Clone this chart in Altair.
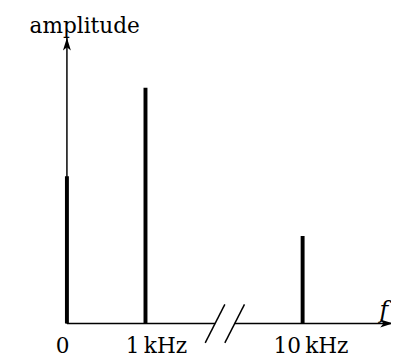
import altair as alt
import pandas as pd

# schematic frequency positions (0, 1 kHz, 10 kHz) and amplitudes
positions = [0, 1, 3]
amplitudes = [0.515, 0.825, 0.306]
tick_labels = ["0", "1\u2009kHz", "10\u2009kHz"]
label_x = [-0.056, 1.14, 3.106]

# axis geometry (data units)
x_axis_start = [0, 2.135]
x_axis_end = [1.885, 4.15]
y_axis_top = 1.0
break_x1 = [1.76, 2.01]
break_x2 = [2.01, 2.26]
break_y1 = -0.068
break_y2 = 0.067

xs = alt.Scale(domain=[0, 3.9], nice=False, zero=False)
ys = alt.Scale(domain=[0, 1], nice=False, zero=False)

bars_df = pd.DataFrame({"x": positions, "amp": amplitudes, "zero": [0] * 3})
labels_df = pd.DataFrame({"x": label_x, "label": tick_labels, "y": [-0.105] * 3})
xaxis_df = pd.DataFrame({"x": x_axis_start, "x2": x_axis_end, "y": [0, 0]})
yaxis_df = pd.DataFrame({"x": [0], "y": [0], "y2": [y_axis_top]})
break_df = pd.DataFrame({"x": break_x1, "x2": break_x2, "y": [break_y1] * 2, "y2": [break_y2] * 2})
arrow_df = pd.DataFrame({"x": [0, 4.15], "y": [y_axis_top, 0], "ang": [0, 90]})
title_df = pd.DataFrame({"x": [-0.475], "y": [1.017], "t": ["amplitude"]})
f_df = pd.DataFrame({"x": [3.98], "y": [0.02], "t": ["f"]})

X = lambda f: alt.X(f, type="quantitative", scale=xs, axis=None)
Y = lambda f: alt.Y(f, type="quantitative", scale=ys, axis=None)

xaxis = alt.Chart(xaxis_df).mark_rule(color="black", strokeWidth=1.5, clip=False).encode(
    x=X("x"), x2="x2", y=Y("y"))
yaxis = alt.Chart(yaxis_df).mark_rule(color="black", strokeWidth=1.5, clip=False).encode(
    x=X("x"), y=Y("y"), y2="y2")
breaks = alt.Chart(break_df).mark_rule(color="black", strokeWidth=1.5, clip=False).encode(
    x=X("x"), x2="x2", y=Y("y"), y2="y2")
bars = alt.Chart(bars_df).mark_rule(color="black", strokeWidth=4, strokeCap="butt", clip=False).encode(
    x=X("x"), y=Y("zero"), y2="amp")
arrows = alt.Chart(arrow_df).mark_point(
    shape="M0,0 L0.62,2 L0,1.5 L-0.62,2 Z", filled=True, color="black", opacity=1,
    size=169, clip=False).encode(x=X("x"), y=Y("y"), angle=alt.Angle("ang:Q", scale=None))
labels = alt.Chart(labels_df).mark_text(
    font="DejaVu Serif", fontSize=22, color="black", align="center", baseline="alphabetic", clip=False
).encode(x=X("x"), y=Y("y"), text="label")
title = alt.Chart(title_df).mark_text(
    font="DejaVu Serif", fontSize=22, color="black", align="left", baseline="alphabetic", clip=False
).encode(x=X("x"), y=Y("y"), text="t")
fl = alt.Chart(f_df).mark_text(
    font="DejaVu Serif", fontSize=24, fontStyle="italic", color="black", align="left",
    baseline="alphabetic", clip=False
).encode(x=X("x"), y=Y("y"), text="t")

chart = alt.layer(xaxis, yaxis, breaks, bars, arrows, labels, title, fl).properties(
    width=312, height=291,
    autosize=alt.AutoSizeParams(type="none"),
    padding={"left": 60, "top": 27, "right": 18, "bottom": 33},
).configure_view(stroke=None)

chart.save("out.html", embed_options={"renderer": "svg", "actions": False})
